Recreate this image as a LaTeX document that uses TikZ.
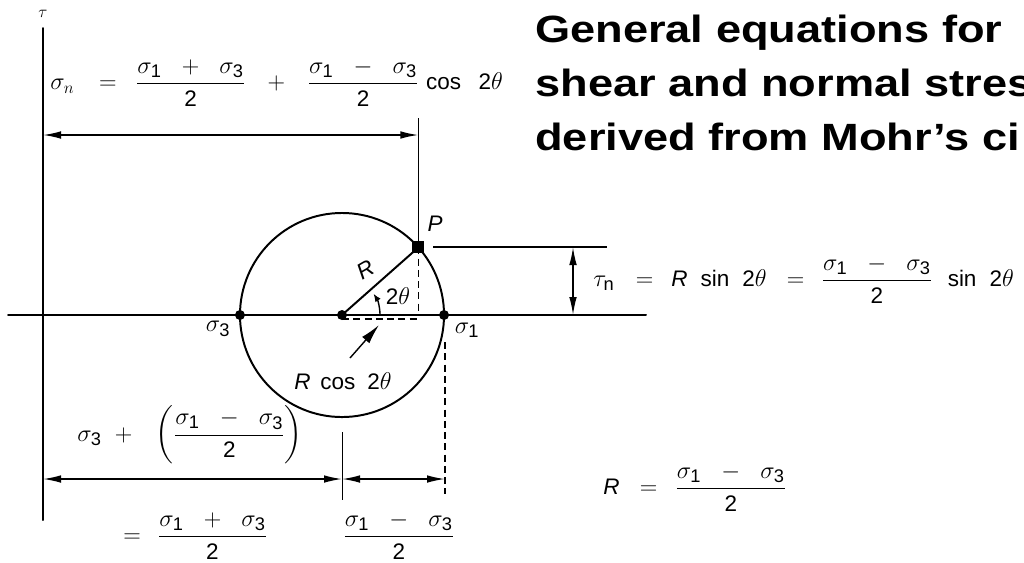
\documentclass[tikz,border=0pt]{standalone}
\usepackage{amsmath}
\usepackage{fontspec}
\setmainfont{Liberation Sans}
\newfontfamily\ttlfont{Liberation Sans Bold}[FakeStretch=1.19]
\usetikzlibrary{arrows.meta,calc}
\DeclareMathSizes{16}{16}{13}{10}
\newcommand{\eqfont}{\fontsize{16}{19}\selectfont}
\newcommand{\hs}[1]{\hspace{#1em}}
\newcommand{\sgm}[1]{\sigma_{\mathrm{#1}}}
\newcommand{\half}[1]{\dfrac{\sgm{1}\hs{0.65}#1\hs{0.65}\sgm{3}}{\mathrm{2}}}
\tikzset{
  mline/.style={line width=1.4pt, line cap=round},
  mthin/.style={line width=0.8pt},
  mdash/.style={line width=1.1pt, dash pattern=on 5pt off 3pt},
  mdim/.style={line width=1.1pt,
               {Latex[length=4.5mm,width=1.9mm]}-{Latex[length=4.5mm,width=1.9mm]}},
  mdot/.style={circle, fill=black, inner sep=0pt, minimum size=2.5mm},
  msq/.style={rectangle, fill=black, inner sep=0pt, minimum size=3mm},
  meq/.style={inner sep=0pt, font=\eqfont, anchor=west},
  mlbl/.style={inner sep=0pt, font=\eqfont},
  ttl/.style={inner sep=0pt, anchor=base west, font=\ttlfont\fontsize{27}{32}\selectfont},
}

\begin{document}
\begin{tikzpicture}[x=0.025cm, y=-0.025cm]
  \useasboundingbox (0,0) rectangle (1024,562);
  \node[ttl] (ttlA) at (535,42)  {General equations for};
  \node[ttl] (ttlB) at (535,96)  {shear and normal stres};
  \node[ttl] (ttlC) at (535,150) {derived from Mohr’s ci};

  \coordinate (tauTop) at (43,28);
  \coordinate (tauBot) at (43,520);
  \coordinate (axL) at (8,315);
  \coordinate (axR) at (646,315);
  \coordinate (C) at (342,315);
  \coordinate (S3) at ([xshift=-2.55cm]C);
  \coordinate (S1) at ([xshift=2.55cm]C);
  \coordinate (P) at ([shift={(41.5:2.55cm)}]C);
  \coordinate (Pf) at (P |- C);
  \coordinate (topRef) at (0,118);
  \coordinate (Ptop) at (P |- topRef);
  \node[font=\fontsize{12}{12}\selectfont] (tauLbl) at (43,14) {$\tau$};

  \draw[mline] (tauTop) -- (tauBot);
  \draw[mline] (axL) -- (axR);
  \draw[mline] (C) circle[radius=2.55cm];
  \draw[mline] (C) -- (P);
  \draw[mthin] (Ptop) -- (P);
  \draw[mdash] (P) -- (Pf);

  \coordinate (Cd) at ([yshift=-0.1cm]C);
  \coordinate (Pd) at ([yshift=-0.1cm]Pf);
  \draw[mdash] (Cd) -- (Pd);

  \foreach \pt in {S3,C,S1} {
    \node[mdot] (d\pt) at (\pt) {};
  }
  \node[msq] (Pm) at (P) {};

  \coordinate (dimTL) at (43,135);
  \coordinate (dimTR) at (P |- dimTL);
  \draw[mdim] (dimTL) -- (dimTR);

  \coordinate (tnL) at (433,247);
  \coordinate (tnR) at (607,247);
  \coordinate (tnA) at (573,247);
  \coordinate (tnB) at (573,315);
  \draw[mthin, line width=1.1pt] (tnL) -- (tnR);
  \draw[mdim] (tnA) -- (tnB);

  \coordinate (arcS) at ([xshift=0.95cm]C);
  \draw[line width=1pt, -{Latex[length=2mm,width=1.6mm]}] (arcS) arc[start angle=0, end angle=34, radius=0.95cm];

  \coordinate (rcTail) at (350,358);
  \coordinate (rcTip) at (379,325);
  \draw[line width=1pt, -{Latex[length=5mm,width=2.4mm]}] (rcTail) -- (rcTip);

  \coordinate (s1Low) at (445,342);
  \coordinate (s1Bot) at (445,494);
  \draw[mdash] (s1Low) -- (s1Bot);
  \coordinate (cLowT) at (342,432);
  \coordinate (cLowB) at (342,500);
  \draw[mthin, line width=0.6pt] (cLowT) -- (cLowB);

  \coordinate (bL) at (43,479);
  \coordinate (bM) at (342,479);
  \coordinate (bR) at (445,479);
  \draw[mdim] (bL) -- (bM);
  \draw[mdim] (bM) -- (bR);

  \node[mlbl] (s3Lbl) at (218,329) {$\sgm{3}$};
  \node[mlbl] (s1Lbl) at (467,330) {$\sgm{1}$};
  \node[mlbl] (pLbl) at (435,224) {\textit{P}};
  \node[mlbl, rotate=30] (rLbl) at (366,270) {\textit{R}};
  \node[mlbl] (angLbl) at (398,296) {$\mathrm{2}\theta$};
  \node[mlbl] (rcLbl) at (343,381) {$\mathit{R}\hs{0.25}\cos\hs{0.35}\mathrm{2}\theta$};

  \node[meq] (eqSn) at (50,83) {$\sigma_n\hs{0.8}=\hs{0.55}\half{+}\hs{0.75}+\hs{0.75}\half{-}\hs{0.15}\cos\hs{0.6}\mathrm{2}\theta$};
  \node[meq] (eqTn) at (593,280) {$\tau_{\mathrm{n}}\hs{0.65}=\hs{0.5}\mathit{R}\hs{0.4}\sin\hs{0.4}\mathrm{2}\theta\hs{0.6}=\hs{0.45}\half{-}\hs{0.5}\sin\hs{0.4}\mathrm{2}\theta$};
  \node[meq] (eqR) at (603,488) {$\mathit{R}\hs{0.6}=\hs{0.5}\half{-}$};
  \node[meq] (eqMid) at (77,435) {$\sgm{3}\hs{0.35}+\hs{0.8}\left(\half{-}\right)$};
  \node[meq] (eqSum) at (123,536) {$=\hs{0.45}\half{+}$};
  \node[meq] (eqHalf) at (343,536) {$\half{-}$};
\end{tikzpicture}
\end{document}
